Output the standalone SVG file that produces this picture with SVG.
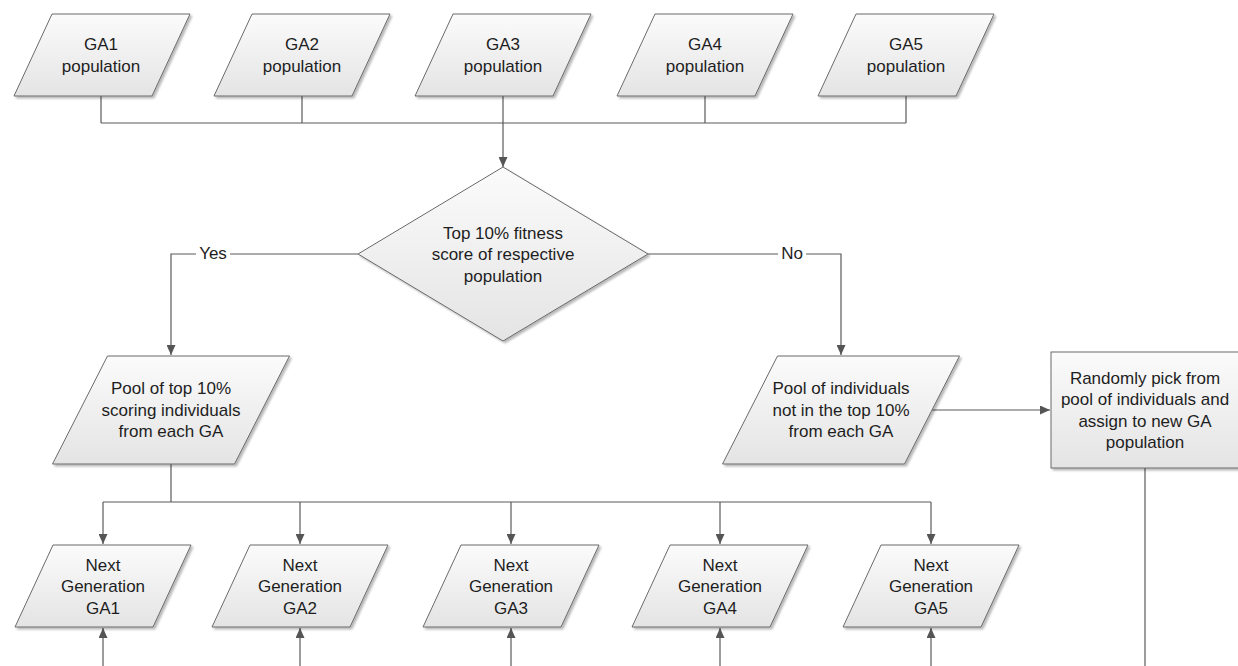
<svg xmlns="http://www.w3.org/2000/svg" width="1238" height="666" viewBox="0 0 1238 666">
<defs>
<linearGradient id="fillg" x1="0" y1="0" x2="0" y2="1">
<stop offset="0" stop-color="#fbfbfb"/>
<stop offset="1" stop-color="#e4e4e4"/>
</linearGradient>
<filter id="sh" x="-10%" y="-10%" width="125%" height="130%">
<feDropShadow dx="2" dy="2" stdDeviation="1.2" flood-color="#000" flood-opacity="0.28"/>
</filter>
<marker id="arr" markerWidth="10" markerHeight="9" refX="10" refY="4.5" orient="auto" markerUnits="userSpaceOnUse">
<path d="M0,0 L10,4.5 L0,9 z" fill="#555"/>
</marker>
</defs>
<style>
.shape{fill:url(#fillg);stroke:#6a6a6a;stroke-width:1;filter:url(#sh)}
.t{font-family:"Liberation Sans",Arial,sans-serif;font-size:17px;fill:#1e1e1e;text-anchor:middle}
.c{fill:none;stroke:#5a5a5a;stroke-width:1.2}
.a{marker-end:url(#arr)}
</style>
<rect width="1238" height="666" fill="#fff"/>

<g id="connectors">
<path class="c" d="M101,96 V123 M302,96 V123 M705,96 V123 M906,96 V123 M101,123 H906"/>
<path class="c a" d="M503,96 V167"/>
<path class="c a" d="M358,254 H171 V355"/>
<path class="c a" d="M648,254 H841 V355"/>
<path class="c a" d="M932,410 H1050"/>
<path class="c" d="M1145,468 V666"/>
<path class="c" d="M171,464 V502 M103,502 H931"/>
<path class="c a" d="M103,502 V544"/>
<path class="c a" d="M300,502 V544"/>
<path class="c a" d="M511,502 V544"/>
<path class="c a" d="M720,502 V544"/>
<path class="c a" d="M931,502 V544"/>
<path class="c a" d="M103,666 V628"/>
<path class="c a" d="M300,666 V628"/>
<path class="c a" d="M511,666 V628"/>
<path class="c a" d="M720,666 V628"/>
<path class="c a" d="M931,666 V628"/>
<rect x="196" y="244" width="34" height="20" fill="#fff"/>
<text class="t" x="213" y="259">Yes</text>
<rect x="778" y="244" width="28" height="20" fill="#fff"/>
<text class="t" x="792" y="259">No</text>
</g>

<g id="ga1">
<polygon class="shape" points="52,14 190,14 152,96 14,96"/>
<text class="t" x="101" y="50">GA1</text>
<text class="t" x="101" y="72">population</text>
</g>
<g id="ga2">
<polygon class="shape" points="252,14 390,14 352,96 214,96"/>
<text class="t" x="302" y="50">GA2</text>
<text class="t" x="302" y="72">population</text>
</g>
<g id="ga3">
<polygon class="shape" points="453,14 591,14 553,96 415,96"/>
<text class="t" x="503" y="50">GA3</text>
<text class="t" x="503" y="72">population</text>
</g>
<g id="ga4">
<polygon class="shape" points="655,14 793,14 755,96 617,96"/>
<text class="t" x="705" y="50">GA4</text>
<text class="t" x="705" y="72">population</text>
</g>
<g id="ga5">
<polygon class="shape" points="856,14 994,14 956,96 818,96"/>
<text class="t" x="906" y="50">GA5</text>
<text class="t" x="906" y="72">population</text>
</g>

<g id="decision">
<polygon class="shape" points="503,167 648,254 503,341 358,254"/>
<text class="t" x="503" y="239">Top 10% fitness</text>
<text class="t" x="503" y="260">score of respective</text>
<text class="t" x="503" y="282">population</text>
</g>

<g id="pool-top">
<polygon class="shape" points="107.5,356 289.5,356 234.5,464 52.5,464"/>
<text class="t" x="171" y="394">Pool of top 10%</text>
<text class="t" x="171" y="416">scoring individuals</text>
<text class="t" x="171" y="437">from each GA</text>
</g>

<g id="pool-rest">
<polygon class="shape" points="777.5,356 959.5,356 904.5,464 722.5,464"/>
<text class="t" x="841" y="394">Pool of individuals</text>
<text class="t" x="841" y="416">not in the top 10%</text>
<text class="t" x="841" y="437">from each GA</text>
</g>

<g id="random-pick">
<rect class="shape" x="1051" y="352" width="190" height="116"/>
<text class="t" x="1145" y="384">Randomly pick from</text>
<text class="t" x="1145" y="405">pool of individuals and</text>
<text class="t" x="1145" y="427">assign to new GA</text>
<text class="t" x="1145" y="448">population</text>
</g>

<g id="next1">
<polygon class="shape" points="53,545 191,545 153,627 15,627"/>
<text class="t" x="103" y="571">Next</text>
<text class="t" x="103" y="592">Generation</text>
<text class="t" x="103" y="614">GA1</text>
</g>
<g id="next2">
<polygon class="shape" points="250,545 388,545 350,627 212,627"/>
<text class="t" x="300" y="571">Next</text>
<text class="t" x="300" y="592">Generation</text>
<text class="t" x="300" y="614">GA2</text>
</g>
<g id="next3">
<polygon class="shape" points="461,545 599,545 561,627 423,627"/>
<text class="t" x="511" y="571">Next</text>
<text class="t" x="511" y="592">Generation</text>
<text class="t" x="511" y="614">GA3</text>
</g>
<g id="next4">
<polygon class="shape" points="670,545 808,545 770,627 632,627"/>
<text class="t" x="720" y="571">Next</text>
<text class="t" x="720" y="592">Generation</text>
<text class="t" x="720" y="614">GA4</text>
</g>
<g id="next5">
<polygon class="shape" points="881,545 1019,545 981,627 843,627"/>
<text class="t" x="931" y="571">Next</text>
<text class="t" x="931" y="592">Generation</text>
<text class="t" x="931" y="614">GA5</text>
</g>
</svg>
